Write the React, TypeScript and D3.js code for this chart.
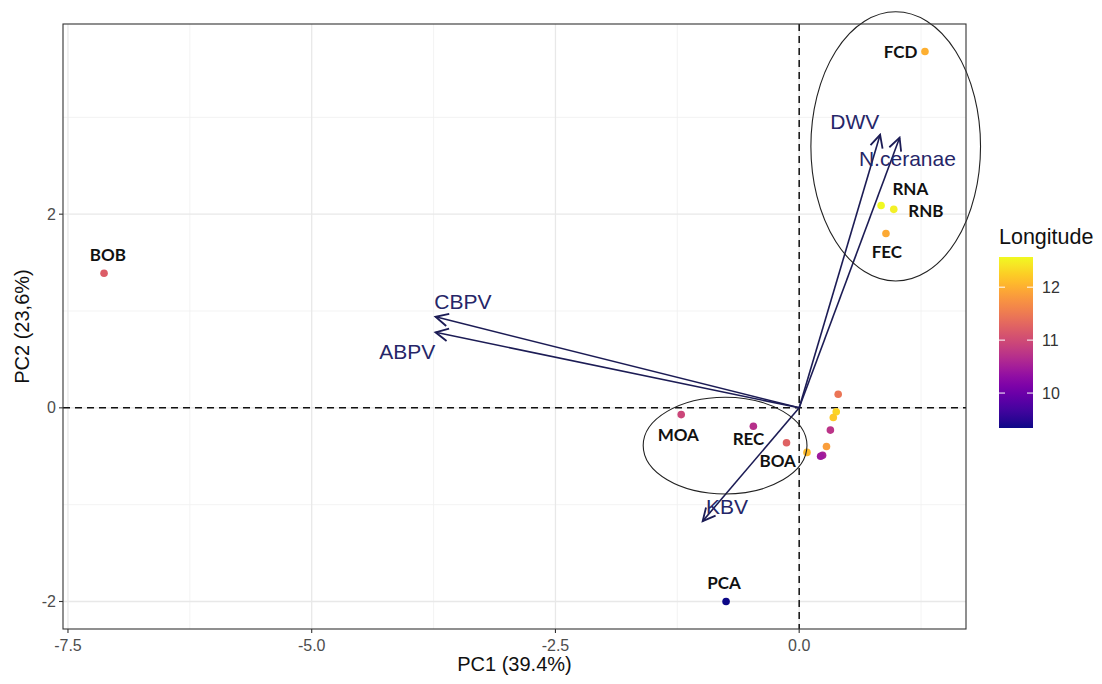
import React from "react";
import * as d3 from "d3";

// ---- data ----
const sites = ["BOB", "FCD", "RNA", "RNB", "FEC", "MOA", "REC", "BOA", "PCA", "", "", "", "", "", "", "", ""];
const pc1 = [-7.13, 1.29, 0.84, 0.97, 0.89, -1.21, -0.47, -0.13, -0.75, 0.40, 0.38, 0.35, 0.32, 0.28, 0.08, 0.24, 0.22];
const pc2 = [1.39, 3.68, 2.09, 2.05, 1.80, -0.07, -0.19, -0.36, -2.0, 0.14, -0.04, -0.10, -0.23, -0.40, -0.46, -0.49, -0.50];
const longitude = [11.2, 12.0, 12.57, 12.5, 11.95, 10.95, 10.7, 11.25, 9.34, 11.45, 12.3, 12.2, 10.75, 11.85, 12.1, 10.55, 10.45];
// label nudges (data units), like geom_text nudge_x / nudge_y
const nudgeX = [0.04, -0.25, 0.30, 0.33, 0.01, -0.03, -0.05, -0.09, -0.02, 0, 0, 0, 0, 0, 0, 0, 0];
const nudgeY = [0.13, -0.07, 0.11, -0.08, -0.25, -0.27, -0.19, -0.25, 0.13, 0, 0, 0, 0, 0, 0, 0, 0];

const variables = ["CBPV", "ABPV", "DWV", "N.ceranae", "KBV"];
const loadX = [-3.73, -3.73, 0.83, 1.03, -0.99];
const loadY = [0.94, 0.78, 2.82, 2.79, -1.17];
const varLabelX = [-3.45, -4.02, 0.57, 1.11, -0.74];
const varLabelY = [1.10, 0.58, 2.96, 2.58, -1.02];

// annotation ellipses: centre x, centre y, radius x, radius y (data units)
const ellCx = [0.99, -0.76];
const ellCy = [2.70, -0.39];
const ellRx = [0.87, 0.84];
const ellRy = [1.39, 0.50];

const xMajor = [-7.5, -5.0, -2.5, 0.0];
const xMinor = [-6.25, -3.75, -1.25, 1.25];
const yMajor = [-2, 0, 2];
const yMinor = [-1, 1, 3];
const legendTicks = [10, 11, 12];

const W = 1102, H = 684;
const panel = { left: 63, right: 966, top: 24, bottom: 629 };

export default function App() {
  const xr = d3.extent(pc1) as [number, number];
  const yr = d3.extent(pc2) as [number, number];
  const ex = (xr[1] - xr[0]) * 0.05;
  const ey = (yr[1] - yr[0]) * 0.05;
  const x = d3.scaleLinear().domain([xr[0] - ex, xr[1] + ex]).range([panel.left, panel.right]);
  const y = d3.scaleLinear().domain([yr[0] - ey, yr[1] + ey]).range([panel.bottom, panel.top]);
  const lonExt = d3.extent(longitude) as [number, number];
  const color = d3.scaleSequential(d3.interpolatePlasma).domain(lonExt);

  const bar = { x: 999, w: 34, top: 257, bottom: 428 };
  const ly = d3.scaleLinear().domain(lonExt).range([bar.bottom, bar.top]);
  const stops = d3.range(0, 1.0001, 0.05);

  const navy = "#1c1c55";
  const axisFont = "'Liberation Sans', Arial, sans-serif";

  return (
    <svg width={W} height={H} style={{ position: "absolute", left: 0, top: 0, background: "#fff" }}
      fontFamily={axisFont}>
      <defs>
        <linearGradient id="lg" x1="0" y1="1" x2="0" y2="0">
          {stops.map((s) => (
            <stop key={s} offset={s} stopColor={color(lonExt[0] + s * (lonExt[1] - lonExt[0]))} />
          ))}
        </linearGradient>
        <marker id="arr" markerUnits="userSpaceOnUse" markerWidth={16} markerHeight={16}
          refX={12} refY={6} orient="auto" viewBox="0 0 14 12">
          <path d="M1,0.5 L12,6 L1,11.5" fill="none" stroke={navy} strokeWidth={1.6} />
        </marker>
      </defs>
      <rect x={0} y={0} width={W} height={H} fill="#fff" />
      {/* grid */}
      {xMinor.map((v) => (
        <line key={"xm" + v} x1={x(v)} x2={x(v)} y1={panel.top} y2={panel.bottom} stroke="#f0f0f0" strokeWidth={0.8} />
      ))}
      {yMinor.map((v) => (
        <line key={"ym" + v} y1={y(v)} y2={y(v)} x1={panel.left} x2={panel.right} stroke="#f0f0f0" strokeWidth={0.8} />
      ))}
      {xMajor.map((v) => (
        <line key={"xM" + v} x1={x(v)} x2={x(v)} y1={panel.top} y2={panel.bottom} stroke="#e8e8e8" strokeWidth={1.3} />
      ))}
      {yMajor.map((v) => (
        <line key={"yM" + v} y1={y(v)} y2={y(v)} x1={panel.left} x2={panel.right} stroke="#e8e8e8" strokeWidth={1.3} />
      ))}
      {/* reference lines */}
      <line x1={x(0)} x2={x(0)} y1={panel.top} y2={panel.bottom} stroke="#111" strokeWidth={1.5} strokeDasharray="7,5" />
      <line y1={y(0)} y2={y(0)} x1={panel.left} x2={panel.right} stroke="#111" strokeWidth={1.5} strokeDasharray="7,5" />
      {/* points */}
      {pc1.map((v, i) => (
        <circle key={"p" + i} cx={x(v)} cy={y(pc2[i])} r={3.8} fill={color(longitude[i])} />
      ))}
      {/* site labels */}
      {sites.map((s, i) =>
        s ? (
          <text key={"t" + i} x={x(pc1[i] + nudgeX[i])} y={y(pc2[i] + nudgeY[i])} textAnchor="middle"
            fontFamily="Lato, 'Open Sans', sans-serif" fontWeight="bold" fontSize={17} fill="#111">
            {s}
          </text>
        ) : null
      )}
      {/* loading arrows */}
      {variables.map((v, i) => (
        <line key={"a" + i} x1={x(0)} y1={y(0)} x2={x(loadX[i])} y2={y(loadY[i])} stroke={navy}
          strokeWidth={1.6} markerEnd="url(#arr)" />
      ))}
      {variables.map((v, i) => (
        <text key={"vl" + i} x={x(varLabelX[i])} y={y(varLabelY[i])} textAnchor="middle" dominantBaseline="central"
          fontSize={21} fill="#262668">
          {v}
        </text>
      ))}
      {/* ellipses */}
      {ellCx.map((c, i) => (
        <ellipse key={"e" + i} cx={x(c)} cy={y(ellCy[i])} rx={x(c + ellRx[i]) - x(c)} ry={y(ellCy[i] - ellRy[i]) - y(ellCy[i])}
          fill="none" stroke="#222" strokeWidth={1.1} />
      ))}
      {/* panel border */}
      <rect x={panel.left} y={panel.top} width={panel.right - panel.left} height={panel.bottom - panel.top}
        fill="none" stroke="#333" strokeWidth={1.1} />
      {/* axes ticks */}
      {xMajor.map((v) => (
        <g key={"xt" + v}>
          <line x1={x(v)} x2={x(v)} y1={panel.bottom} y2={panel.bottom + 4} stroke="#333" strokeWidth={1.1} />
          <text x={x(v)} y={panel.bottom + 22} textAnchor="middle" fontSize={16} fill="#4d4d4d">
            {d3.format(".1f")(v).replace("−", "-")}
          </text>
        </g>
      ))}
      {yMajor.map((v) => (
        <g key={"yt" + v}>
          <line x1={panel.left - 4} x2={panel.left} y1={y(v)} y2={y(v)} stroke="#333" strokeWidth={1.1} />
          <text x={panel.left - 7} y={y(v)} textAnchor="end" dominantBaseline="central" fontSize={16} fill="#4d4d4d">
            {String(v)}
          </text>
        </g>
      ))}
      <text x={(panel.left + panel.right) / 2} y={671} textAnchor="middle" fontSize={20} fill="#111">
        PC1 (39.4%)
      </text>
      <text transform={`translate(29,${(panel.top + panel.bottom) / 2}) rotate(-90)`} textAnchor="middle"
        fontSize={20} fill="#111">
        PC2 (23,6%)
      </text>
      {/* legend */}
      <text x={bar.x} y={244} fontSize={21.5} fill="#111">Longitude</text>
      <rect x={bar.x} y={bar.top} width={bar.w} height={bar.bottom - bar.top} fill="url(#lg)" />
      {legendTicks.map((t) => (
        <g key={"lt" + t}>
          <line x1={bar.x} x2={bar.x + 6} y1={ly(t)} y2={ly(t)} stroke="#fff" strokeWidth={1} />
          <line x1={bar.x + bar.w - 6} x2={bar.x + bar.w} y1={ly(t)} y2={ly(t)} stroke="#fff" strokeWidth={1} />
          <text x={bar.x + bar.w + 9} y={ly(t)} dominantBaseline="central" fontSize={16} fill="#333">
            {t}
          </text>
        </g>
      ))}
    </svg>
  );
}
